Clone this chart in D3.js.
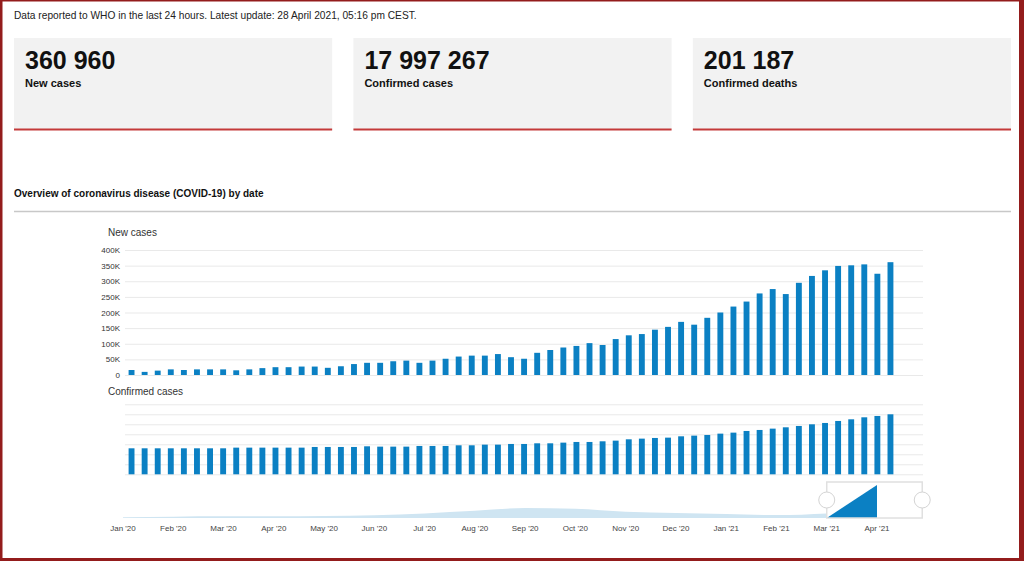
<!DOCTYPE html>
<html lang="en">
<head>
<meta charset="UTF-8">
<title>COVID-19 overview</title>
<script src="https://d3js.org/d3.v7.min.js"></script>
<style>
  body { margin: 0; background: #fff; font-family: Arial, "Liberation Sans", sans-serif; }
  svg { display: block; }
  .grid line { stroke: #e9e9e9; }
  .grid .domain { display: none; }
  .yaxis .domain { display: none; }
  .yaxis text { fill: #333; font-size: 8px; }
</style>
</head>
<body>
<svg id="chart" width="1024" height="561"></svg>
<script>
// header + summary cards
const updateNote = "Data reported to WHO in the last 24 hours. Latest update: 28 April 2021, 05:16 pm CEST.";
const cardValues = [360960, 17997267, 201187];
const cardLabels = ["New cases", "Confirmed cases", "Confirmed deaths"];
const sectionTitle = "Overview of coronavirus disease (COVID-19) by date";

// weekly new cases
const newCases = [
  16000, 10000, 14000, 18000, 16000, 18000, 18000, 18000, 15000, 18000,
  22000, 25000, 25000, 27000, 27000, 23000, 28000, 35000, 39000, 39000,
  44000, 46000, 39000, 46000, 52000, 59000, 62000, 62000, 67000, 57000,
  52000, 71000, 80000, 88000, 93000, 102000, 96000, 115000, 127000, 131000,
  145000, 154000, 170000, 161000, 183000, 200000, 219000, 235000, 261000, 275000,
  259000, 295000, 317000, 335000, 349000, 351000, 354000, 324000, 361000
];
// weekly confirmed cases (bottom panel)
const confirmedCases = [
  7.8e6, 7.8e6, 7.8e6, 7.8e6, 7.8e6, 7.8e6, 7.8e6, 7.8e6, 8.0e6, 8.0e6,
  8.0e6, 8.0e6, 8.0e6, 8.0e6, 8.2e6, 8.2e6, 8.2e6, 8.2e6, 8.4e6, 8.3e6,
  8.3e6, 8.3e6, 8.5e6, 8.5e6, 8.5e6, 8.7e6, 8.7e6, 8.9e6, 8.9e6, 9.1e6,
  9.1e6, 9.3e6, 9.3e6, 9.5e6, 9.7e6, 9.7e6, 9.9e6, 10.1e6, 10.5e6, 10.7e6,
  10.9e6, 11.0e6, 11.4e6, 11.6e6, 11.8e6, 12.2e6, 12.5e6, 13.0e6, 13.3e6, 13.7e6,
  14.1e6, 14.5e6, 15.0e6, 15.4e6, 16.0e6, 16.5e6, 17.1e6, 17.5e6, 18.0e6
];
const newCaseTicks = [0, 50000, 100000, 150000, 200000, 250000, 300000, 350000, 400000];
const confirmedTicks = [0, 3e6, 6e6, 9e6, 12e6, 15e6, 18e6, 21e6];

// navigator
const monthLabels = ["Jan '20", "Feb '20", "Mar '20", "Apr '20", "May '20", "Jun '20", "Jul '20", "Aug '20",
  "Sep '20", "Oct '20", "Nov '20", "Dec '20", "Jan '21", "Feb '21", "Mar '21", "Apr '21"];
const navOverview = [2, 4, 5, 5, 6, 8, 14, 22, 30, 28, 19, 15, 12, 9, 14]; // Jan '20 .. Mar '21
const navSelected = [0, 100];                                          // Mar '21 .. Apr '21
const navWindow = ["Mar '21", "Apr '21"];

const blue = "#0b80c3";
const svg = d3.select("#chart");
const fmtSpace = d3.formatLocale({ decimal: ".", thousands: " ", grouping: [3], currency: ["", ""] }).format(",");

// frame
const frame = "#931c1c";
svg.append("rect").attr("x", 0).attr("y", 0).attr("width", 1024).attr("height", 1.5).attr("fill", frame);
svg.append("rect").attr("x", 0).attr("y", 0).attr("width", 2.5).attr("height", 561).attr("fill", frame);
svg.append("rect").attr("x", 1019).attr("y", 0).attr("width", 5).attr("height", 561).attr("fill", frame);
svg.append("rect").attr("x", 0).attr("y", 558).attr("width", 1024).attr("height", 3).attr("fill", frame);

svg.append("text").attr("x", 14).attr("y", 19)
  .attr("font-size", 10.2).attr("fill", "#222").text(updateNote);

// cards
const cardX = d3.scaleBand().domain(d3.range(cardValues.length)).range([14, 1011]).paddingInner(0.0627);
const card = svg.selectAll("g.card").data(cardValues).join("g")
  .attr("class", "card").attr("transform", (d, i) => `translate(${cardX(i)},38)`);
card.append("rect").attr("width", cardX.bandwidth()).attr("height", 92).attr("fill", "#f2f2f2");
card.append("rect").attr("y", 90.5).attr("width", cardX.bandwidth()).attr("height", 2).attr("fill", "#c43a3a");
card.append("text").attr("x", 11).attr("y", 30.5).attr("font-size", 25).attr("font-weight", "bold")
  .attr("fill", "#111").text(d => fmtSpace(d));
card.append("text").attr("x", 11).attr("y", 49).attr("font-size", 11).attr("font-weight", "bold")
  .attr("fill", "#111").text((d, i) => cardLabels[i]);

svg.append("text").attr("x", 14).attr("y", 197).attr("font-size", 10).attr("font-weight", "bold")
  .attr("fill", "#111").text(sectionTitle);
svg.append("line").attr("x1", 14).attr("x2", 1011).attr("y1", 211.5).attr("y2", 211.5)
  .attr("stroke", "#c8c8c8").attr("stroke-width", 1.5);

// shared band scale for weekly bars
const weeks = newCases.map((d, i) => i);
const gridLeft = 125, gridRight = 923;
const x = d3.scaleBand().domain(weeks).range([gridLeft, 897]).paddingInner(0.55).paddingOuter(0.275);

// top panel: new cases
const yTop = d3.scaleLinear().domain([0, 400000]).range([375, 250]);
svg.append("g").attr("class", "grid").attr("transform", `translate(${gridLeft},0)`)
  .call(d3.axisRight(yTop).tickValues(newCaseTicks).tickSize(gridRight - gridLeft).tickFormat(""));
svg.append("g").attr("class", "yaxis").attr("transform", `translate(${gridLeft},0)`)
  .call(d3.axisLeft(yTop).tickValues(newCaseTicks).tickSize(0).tickPadding(5)
    .tickFormat(d => d === 0 ? "0" : d / 1000 + "K"));
svg.append("text").attr("x", 108).attr("y", 236).attr("font-size", 10).attr("fill", "#333").text("New cases");
svg.append("g").selectAll("rect").data(newCases).join("rect")
  .attr("x", (d, i) => x(i)).attr("width", x.bandwidth())
  .attr("y", d => yTop(d)).attr("height", d => yTop(0) - yTop(d)).attr("fill", blue);

// bottom panel: confirmed cases
const yBot = d3.scaleLinear().domain([0, 21e6]).range([474.3, 404.3]);
svg.append("g").attr("class", "grid").attr("transform", `translate(${gridLeft},0)`)
  .call(d3.axisRight(yBot).tickValues(confirmedTicks).tickSize(gridRight - gridLeft).tickFormat(""));
svg.append("text").attr("x", 108).attr("y", 395).attr("font-size", 10).attr("fill", "#333").text("Confirmed cases");
svg.append("g").selectAll("rect").data(confirmedCases).join("rect")
  .attr("x", (d, i) => x(i)).attr("width", x.bandwidth())
  .attr("y", d => yBot(d)).attr("height", d => yBot(0) - yBot(d)).attr("fill", blue);

// navigator
const xm = d3.scalePoint().domain(monthLabels).range([123, 877]);
const yNav = d3.scaleLinear().domain([0, 100]).range([518, 485]);
const areaOver = d3.area().x((d, i) => xm(monthLabels[i])).y0(yNav(0)).y1(d => yNav(d)).curve(d3.curveMonotoneX);
svg.append("path").datum(navOverview).attr("d", areaOver).attr("fill", "#cfe5f2");
const areaSel = d3.area().x((d, i) => xm(navWindow[i])).y0(yNav(0)).y1(d => yNav(d));
svg.append("path").datum(navSelected).attr("d", areaSel).attr("fill", blue);

const selLeft = xm(navWindow[0]), selRight = xm(navWindow[1]) + xm.step() * 0.9;
svg.append("rect").attr("x", selLeft).attr("y", 482).attr("width", selRight - selLeft).attr("height", 36)
  .attr("fill", "none").attr("stroke", "#e0e0e0").attr("stroke-width", 1.5);
svg.selectAll("circle.handle").data([selLeft, selRight]).join("circle")
  .attr("class", "handle").attr("cx", d => d).attr("cy", 500).attr("r", 8)
  .attr("fill", "#fff").attr("stroke", "#d4d4d4");

svg.append("g").selectAll("text").data(monthLabels).join("text")
  .attr("x", d => xm(d)).attr("y", 531).attr("text-anchor", "middle")
  .attr("font-size", 8).attr("fill", "#444").text(d => d);
</script>
</body>
</html>
